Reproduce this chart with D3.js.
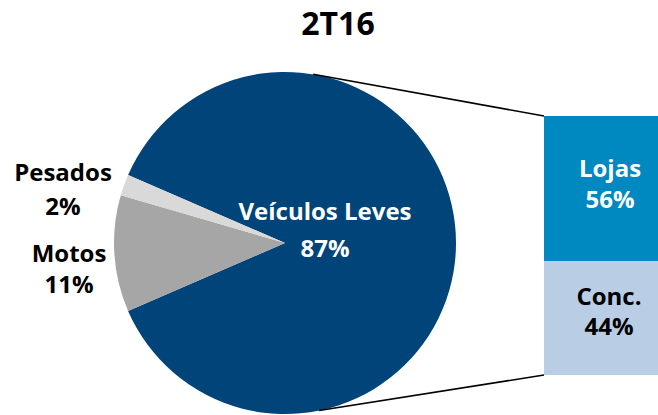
<!DOCTYPE html>
<meta charset="utf-8">
<head>
	<style>
		html, body { margin: 0; padding: 0; background: white; }
		text { font-family: "Open Sans", sans-serif; font-weight: bold; }
	</style>
	<script src="https://d3js.org/d3.v7.min.js"></script>
</head>
<body>
	<script>

	// DATA
	var title = '2T16';
	var pieLabels = ['Veículos Leves', 'Motos', 'Pesados'];
	var pieValues = [87, 11, 2];
	var barLabels = ['Lojas', 'Conc.'];
	var barValues = [56, 44];

	// SETUP
	var width = 658, height = 415,
		cx = 285, cy = 243, r = 171;

	var svg = d3.select('body').append('svg')
		.attr('width', width)
		.attr('height', height);

	svg.append('text')
		.attr('x', 338).attr('y', 35)
		.attr('text-anchor', 'middle')
		.attr('font-size', '32px')
		.text(title);

	// PIE - first slice centred on the right side
	var span = pieValues[0] / d3.sum(pieValues) * 2 * Math.PI,
		start = Math.PI / 2 - span / 2;

	var pie = d3.pie().sort(null)
		.startAngle(start).endAngle(start + 2 * Math.PI);
	var arc = d3.arc().innerRadius(0).outerRadius(r);
	var pieColors = ['#00447A', '#A6A6A6', '#D9D9D9'];

	var g = svg.append('g').attr('transform', 'translate(' + cx + ',' + cy + ')');
	g.selectAll('path')
		.data(pie(pieValues))
		.enter().append('path')
		.attr('d', arc)
		.attr('fill', function(d, i) { return pieColors[i]; });

	// BAR
	var y = d3.scaleLinear().domain([0, 100]).range([116, 375]);
	var barX = 544, barW = 130;
	var barColors = ['#0088C1', '#B9CDE5'];
	var acc = 0, stacks = barValues.map(function(v) { var s = { y0: acc, y1: acc + v }; acc += v; return s; });

	svg.selectAll('.bar')
		.data(stacks)
		.enter().append('rect')
		.attr('class', 'bar')
		.attr('x', barX)
		.attr('y', function(d) { return y(d.y0); })
		.attr('width', barW)
		.attr('height', function(d) { return y(d.y1) - y(d.y0); })
		.attr('fill', function(d, i) { return barColors[i]; });

	// CONNECTORS
	var a1 = 9.5 * Math.PI / 180, a2 = 168.5 * Math.PI / 180;
	[[a1, y(0)], [a2, y(100)]].forEach(function(p) {
		svg.append('line')
			.attr('x1', cx + r * Math.sin(p[0]))
			.attr('y1', cy - r * Math.cos(p[0]))
			.attr('x2', barX)
			.attr('y2', p[1])
			.attr('stroke', 'black')
			.attr('stroke-width', 1.5);
	});

	// LABELS
	function label(x, y0, gap, lines, color) {
		var t = svg.append('text')
			.attr('text-anchor', 'middle')
			.attr('font-size', '24px')
			.attr('fill', color);
		lines.forEach(function(s, i) {
			t.append('tspan').attr('x', x).attr('y', y0 + i * gap).text(s);
		});
	}
	label(325, 220, 37, [pieLabels[0], pieValues[0] + '%'], 'white');
	label(69, 262, 31, [pieLabels[1], pieValues[1] + '%'], 'black');
	label(63, 181, 34, [pieLabels[2], pieValues[2] + '%'], 'black');
	label(610, 177, 31, [barLabels[0], barValues[0] + '%'], 'white');
	label(609, 305, 30, [barLabels[1], barValues[1] + '%'], 'black');

	</script>
</body>
